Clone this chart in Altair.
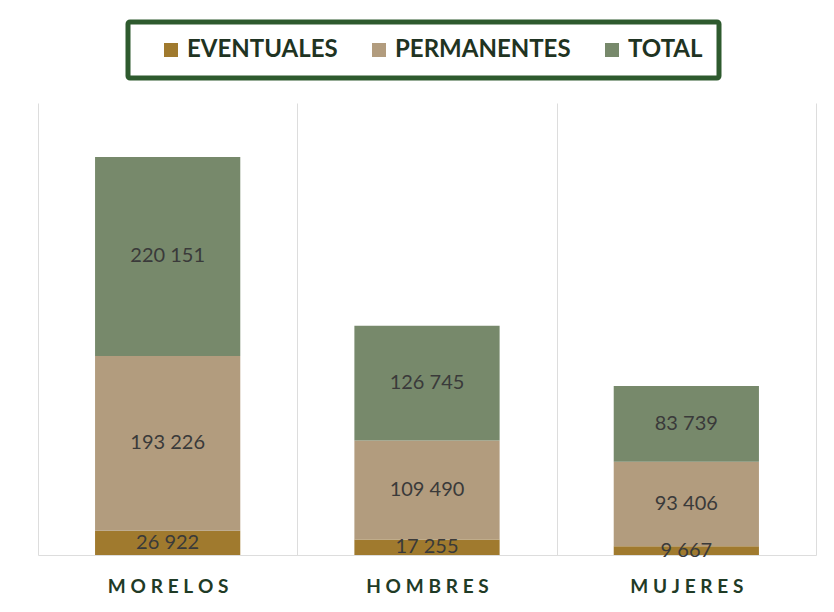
import altair as alt
import pandas as pd

categories = ["MORELOS", "HOMBRES", "MUJERES"]
series = ["EVENTUALES", "PERMANENTES", "TOTAL"]
eventuales = [26922, 17255, 9667]
permanentes = [193226, 109490, 93406]
total = [220151, 126745, 83739]
colors = ["#a07a2e", "#b29c7e", "#77896b"]

rows = []
for i, c in enumerate(categories):
    for k, (s, vals) in enumerate(zip(series, [eventuales, permanentes, total])):
        v = vals[i]
        rows.append({"cat": c, "serie": s, "value": v, "ord": k,
                     "label": f"{v:,}".replace(",", " ")})
df = pd.DataFrame(rows)

base = alt.Chart(df).transform_stack(
    stack="value", groupby=["cat"], as_=["y0", "y1"],
    sort=[alt.SortField("ord", order="ascending")]
).transform_calculate(mid="(datum.y0 + datum.y1) / 2")

xenc = alt.X("cat:N", sort=categories, title=None,
             scale=alt.Scale(paddingInner=0, paddingOuter=0),
             axis=alt.Axis(tickBand="extent", grid=True, gridColor="#dddddd",
                           domainColor="#dddddd", ticks=False,
                           labelFont="Lato", labelFontWeight="bold",
                           labelFontSize=19, labelColor="#1f3b26",
                           labelPadding=22, labelAngle=0,
                           labelExpr="join(split(datum.label, ''), '\u2009\u2009')"))
yscale = alt.Scale(domain=[0, 500000])

bars = base.mark_bar(width=alt.RelativeBandSize(0.56)).encode(
    x=xenc,
    y=alt.Y("y0:Q", scale=yscale, axis=None),
    y2="y1:Q",
    color=alt.Color("serie:N", sort=series,
                    scale=alt.Scale(domain=series, range=colors),
                    legend=alt.Legend(title=None, orient="none", legendX=90,
                                      legendY=-81, direction="horizontal",
                                      columns=3, symbolType="square",
                                      symbolSize=196, symbolStrokeWidth=0,
                                      symbolOffset=15,
                                      labelFont="Lato", labelFontWeight="bold",
                                      labelFontSize=24, labelColor="#1f3322",
                                      columnPadding=14, labelOffset=4,
                                      strokeColor="#2e5a2e",
                                      padding=16, cornerRadius=2,
                                      fillColor="white", labelLimit=300)),
)

texts = base.mark_text(font="Lato", fontSize=20, color="#3a3a3a",
                       baseline="middle").encode(
    x=alt.X("cat:N", sort=categories),
    y=alt.Y("mid:Q", scale=yscale),
    text="label:N",
)

chart = alt.layer(bars, texts).properties(
    width=778, height=452,
    autosize=alt.AutoSizeParams(type="none"),
    padding={"left": 30, "top": 95, "right": 10, "bottom": 50},
).configure(background="white").configure_view(stroke=None).configure_legend(strokeWidth=5)

chart.save("out.html", embed_options={"renderer": "svg", "actions": False})
